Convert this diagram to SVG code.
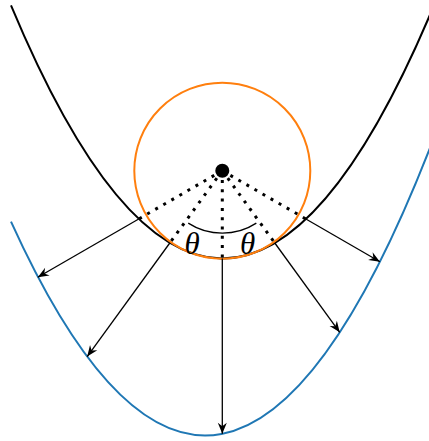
<svg xmlns="http://www.w3.org/2000/svg" width="429" height="441" viewBox="0 0 429 441">
<style>
.curve{fill:none;stroke-width:2}
.dot{fill:none;stroke:#000;stroke-width:3;stroke-dasharray:3 6.3;stroke-linecap:butt}
.arr{fill:none;stroke:#000;stroke-width:1.3}
.lbl{font-family:"Liberation Serif","DejaVu Serif",serif;font-style:italic;font-size:31px;fill:#000;text-anchor:middle}
</style>
<defs>
<marker id="ah" markerUnits="userSpaceOnUse" markerWidth="14" markerHeight="12" viewBox="-12 -6 14 12" refX="0" refY="0" orient="auto">
<path d="M0,0 L-11,-4.5 L-7.5,0 L-11,4.5 Z" fill="#000"/>
</marker>
</defs>
<rect width="429" height="441" fill="#fff"/>
<g id="bowl"><path class="curve" stroke="#000" d="M11,5.32 Q221.5,509.26 432,10.08"/></g>
<g id="shifted"><path class="curve" stroke="#1f77b4" d="M11,221.7 Q221.5,685.6 432,142.8"/></g>
<g id="circle"><circle class="curve" stroke="#ff7f0e" cx="222.3" cy="170.7" r="88"/></g>
<g id="connectors">
<line class="dot" x1="222.3" y1="170.7" x2="138.7" y2="219"/>
<line class="dot" x1="222.3" y1="170.7" x2="169.8" y2="243"/>
<line class="dot" x1="222.3" y1="170.7" x2="222.3" y2="258.5"/>
<line class="dot" x1="222.3" y1="170.7" x2="274.8" y2="243"/>
<line class="dot" x1="222.3" y1="170.7" x2="305.9" y2="219"/>
<line class="arr" x1="138.7" y1="219" x2="37.8" y2="277.2" marker-end="url(#ah)"/>
<line class="arr" x1="169.8" y1="243" x2="87.2" y2="356.6" marker-end="url(#ah)"/>
<line class="arr" x1="222.3" y1="258.5" x2="222.3" y2="433.8" marker-end="url(#ah)"/>
<line class="arr" x1="274.8" y1="243" x2="339.7" y2="332.3" marker-end="url(#ah)"/>
<line class="arr" x1="305.9" y1="219" x2="379.9" y2="261.7" marker-end="url(#ah)"/>
<path class="arr" d="M188.26,223.1 A62.5,62.5 0 0 0 256.34,223.1"/>
</g>
<g id="center"><circle cx="222.3" cy="170.7" r="7" fill="#000"/></g>
<g id="labels">
<text class="lbl" x="192" y="254">θ</text>
<text class="lbl" x="247.5" y="254">θ</text>
</g>
</svg>
